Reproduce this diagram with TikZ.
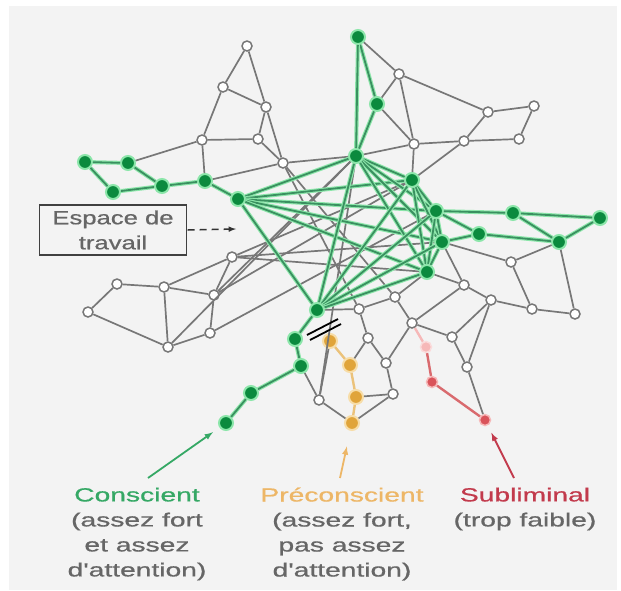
\documentclass[tikz,border=0pt]{standalone}
\usepackage{fontspec}
\setmainfont{Liberation Sans}
\newfontfamily\lblfont[FakeBold=0.6]{Liberation Sans}
\usetikzlibrary{arrows}

\definecolor{panel}{HTML}{F3F3F3}
\definecolor{gnode}{HTML}{0B8A3E}
\definecolor{ghalo}{HTML}{8CE6AA}
\definecolor{gline}{HTML}{3A9060}
\definecolor{wline}{HTML}{777777}
\definecolor{onode}{HTML}{E0A43A}
\definecolor{ohalo}{HTML}{F7DDA8}
\definecolor{oline}{HTML}{EBC27A}
\definecolor{rnode}{HTML}{D9535A}
\definecolor{rhalo}{HTML}{F6B8B8}
\definecolor{rline}{HTML}{D96A6E}
\definecolor{txtgrey}{HTML}{666666}
\definecolor{tgreen}{HTML}{35A865}
\definecolor{torange}{HTML}{EDB666}
\definecolor{tred}{HTML}{C23A4C}

\begin{document}
\begin{tikzpicture}[x=1pt, y=-1pt,
    wn/.style={circle, draw=wline, fill=white, line width=1.5pt, minimum size=10pt, inner sep=0pt},
    gn/.style={circle, fill=gnode, draw=ghalo, line width=2pt, minimum size=14pt, inner sep=0pt},
    on/.style={circle, fill=onode, draw=ohalo, line width=2pt, minimum size=14pt, inner sep=0pt},
    rn/.style={circle, fill=rnode, draw=rhalo, line width=1.5pt, minimum size=11pt, inner sep=0pt},
    pn/.style={circle, fill=rhalo, draw=rhalo!50, line width=1.5pt, minimum size=11pt, inner sep=0pt},
    wl/.style={draw=wline, line width=1.7pt},
    gl/.style={draw=gline, line width=1.8pt, preaction={draw=ghalo, line width=4pt}},
    ol/.style={draw=oline, line width=2.4pt},
    rl/.style={draw=rline, line width=2.4pt},
    wide/.style={xscale=1.35, font=\lblfont\fontsize{19}{25}\selectfont, text=txtgrey, align=center},
    wider/.style={wide, xscale=1.1}]

% background
\fill[white] (0,0) rectangle (621,590);
\fill[panel] (9,6) rectangle (617,590);

% green nodes
\node[gn] (g1) at (85,162) {};
\node[gn] (g2) at (128,163) {};
\node[gn] (g3) at (113,192) {};
\node[gn] (g4) at (162,186) {};
\node[gn] (g5) at (205,181) {};
\node[gn] (g6) at (238,199) {};
\node[gn] (g7) at (358,37) {};
\node[gn] (g8) at (377,104) {};
\node[gn] (g9) at (356,156) {};
\node[gn] (g10) at (412,180) {};
\node[gn] (g11) at (436,211) {};
\node[gn] (g12) at (513,213) {};
\node[gn] (g13) at (600,218) {};
\node[gn] (g14) at (479,234) {};
\node[gn] (g15) at (442,242) {};
\node[gn] (g16) at (559,242) {};
\node[gn] (g17) at (427,272) {};
\node[gn] (g18) at (317,310) {};
\node[gn] (g19) at (295,339) {};
\node[gn] (g20) at (301,366) {};
\node[gn] (g21) at (251,393) {};
\node[gn] (g22) at (226,423) {};

% grey nodes
\node[wn] (w1) at (247,46) {};
\node[wn] (w2) at (223,87) {};
\node[wn] (w3) at (266,107) {};
\node[wn] (w4) at (202,140) {};
\node[wn] (w5) at (258,139) {};
\node[wn] (w6) at (283,163) {};
\node[wn] (w7) at (399,74) {};
\node[wn] (w8) at (488,112) {};
\node[wn] (w9) at (534,106) {};
\node[wn] (w10) at (414,144) {};
\node[wn] (w11) at (464,141) {};
\node[wn] (w12) at (519,139) {};
\node[wn] (w13) at (511,262) {};
\node[wn] (w14) at (464,285) {};
\node[wn] (w17) at (491,300) {};
\node[wn] (w18) at (532,309) {};
\node[wn] (w19) at (575,314) {};
\node[wn] (w20) at (395,297) {};
\node[wn] (w21) at (359,309) {};
\node[wn] (w22) at (412,323) {};
\node[wn] (w23) at (452,337) {};
\node[wn] (w24) at (467,367) {};
\node[wn] (w25) at (368,338) {};
\node[wn] (w26) at (386,363) {};
\node[wn] (w27) at (393,394) {};
\node[wn] (w28) at (319,400) {};
\node[wn] (l1) at (117,284) {};
\node[wn] (l2) at (88,312) {};
\node[wn] (l3) at (164,287) {};
\node[wn] (l4) at (168,347) {};
\node[wn] (l5) at (232,257) {};
\node[wn] (l6) at (214,295) {};
\node[wn] (l7) at (210,333) {};

% orange and red nodes
\node[on] (o1) at (330,341) {};
\node[on] (o2) at (350,365) {};
\node[on] (o3) at (356,397) {};
\node[on] (o4) at (352,423) {};
\node[pn] (r1) at (426,347) {};
\node[rn] (r2) at (432,382) {};
\node[rn] (r3) at (485,420) {};

% grey connections
\foreach \a/\b in {w1/w2, w1/w3, w2/w3, w2/w4, w3/w5, w4/w5, w4/g5, w4/g2, w5/w6, g5/w6, w6/g9,
    g7/w7, w7/w8, w7/g8, w7/w10, w8/w9, w9/w12, w8/w11, w11/w12, w10/w11, g8/w10, g9/w10, w10/g10, w11/g10,
    g16/w19, g15/w13, w13/g16, w13/w18, w18/w19, w17/w18, w14/w17, w14/g15, w14/w22, w17/w24, w17/w23,
    w22/w23, w23/w24, w24/r3, g17/w14, g17/w20,
    g18/w21, w21/w25, w21/w20, w20/w22, w25/w26, w26/w27, w26/w22, w27/o3, w27/o4, w28/o4, w28/g20,
    w28/o1, o2/w25,
    l1/l2, l1/l3, l2/l4, l3/l4, l3/l5, l3/l6, l5/l6, l6/l7, l4/l7,
    l5/g17, l5/g15, l6/g10, l7/g11, l4/g9, w6/w21, w6/w20, g9/l6, g9/w28, g10/l5, w3/w6}
    \draw[wl] (\a) -- (\b);

% green connections
\foreach \a/\b in {g1/g2, g1/g3, g3/g4, g2/g4, g4/g5, g5/g6, g7/g8, g7/g9, g8/g9,
    g11/g12, g12/g13, g13/g16, g16/g14, g14/g15, g11/g14, g12/g16,
    g18/g19, g19/g20, g20/g21, g21/g22}
    \draw[gl] (\a) -- (\b);
% workspace
\foreach \a [count=\i] in {g6,g9,g10,g11,g15,g17,g18}
  \foreach \b [count=\j] in {g6,g9,g10,g11,g15,g17,g18}
    {\ifnum\i<\j \draw[gl] (\a) -- (\b); \fi}

% orange and red connections
\foreach \a/\b in {o1/o2, o2/o3, o3/o4} \draw[ol] (\a) -- (\b);
\foreach \a/\b in {r1/r2, r2/r3} \draw[rl] (\a) -- (\b);
\draw[draw=rhalo, line width=2.4pt] (w22) -- (r1);

% blocked link
\draw[black, line width=1.8pt] (307,335) -- (338,319);
\draw[black, line width=1.8pt] (310,340) -- (341,324);

% workspace label
\node[wide, draw=black!75, line width=1.6pt, minimum width=109pt, minimum height=50pt] (box) at (113,230) {Espace de\\travail};
\coordinate (ws) at (236,229);
\draw[dash pattern=on 7pt off 5pt, line width=1.5pt, draw=black!80, -latex] (box.east) -- (ws);

% stimuli
\node[wider] (cons) at (137,534) {\textcolor{tgreen}{Conscient}\\(assez fort\\et assez\\d'attention)};
\node[wider] (prec) at (342,534) {\textcolor{torange}{Préconscient}\\(assez fort,\\pas assez\\d'attention)};
\node[wider] (subl) at (525,509) {\textcolor{tred}{Subliminal}\\(trop faible)};
\coordinate (ga) at (148,478);
\coordinate (oa) at (340,478);
\coordinate (ra) at (514,478);
\draw[tgreen, line width=1.8pt, -latex, shorten >=8pt] (ga) -- (g22);
\draw[torange, line width=1.8pt, -latex, shorten >=16pt] (oa) -- (o4);
\draw[tred, line width=1.8pt, -latex, shorten >=8pt] (ra) -- (r3);
\end{tikzpicture}
\end{document}
